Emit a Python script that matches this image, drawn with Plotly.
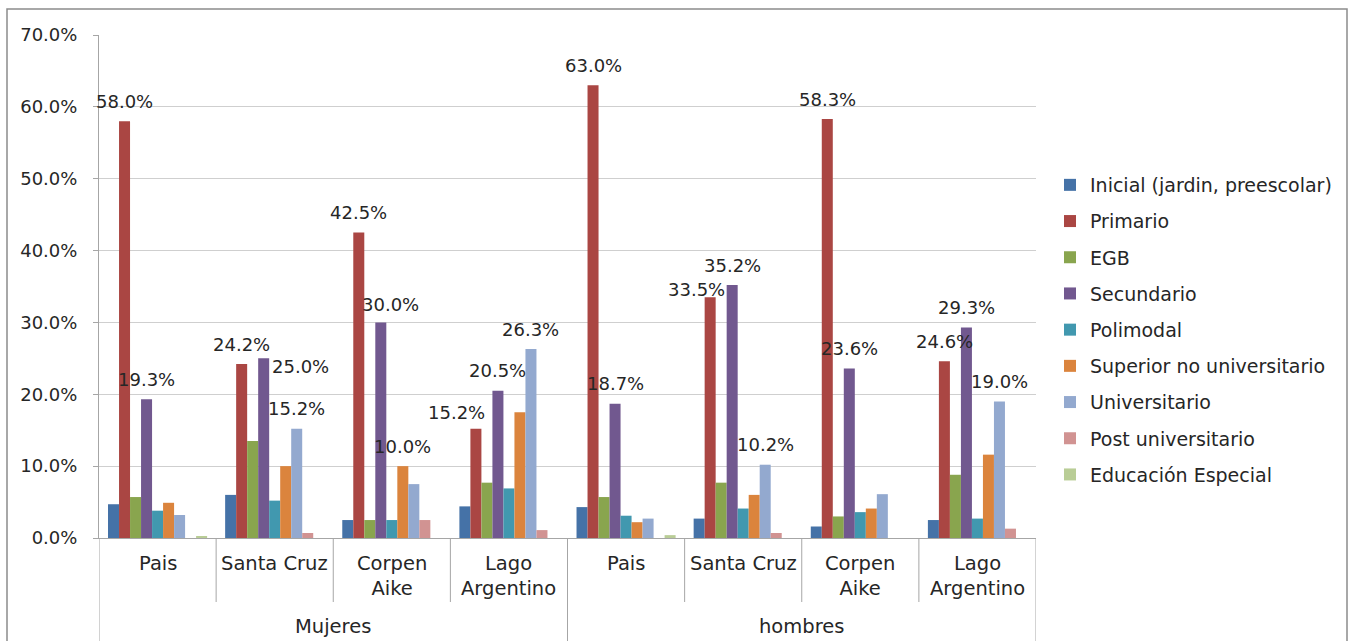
import plotly.graph_objects as go

# ---------------- data ----------------
genders = ["Mujeres", "hombres"]
categories = ["Pais", "Santa Cruz", "Corpen<br>Aike", "Lago<br>Argentino"]

series_names = [
    "Inicial (jardin, preescolar)",
    "Primario",
    "EGB",
    "Secundario",
    "Polimodal",
    "Superior no universitario",
    "Universitario",
    "Post universitario",
    "Educación Especial",
]

inicial = [4.7, 6.0, 2.5, 4.4, 4.3, 2.7, 1.6, 2.5]
primario = [58.0, 24.2, 42.5, 15.2, 63.0, 33.5, 58.3, 24.6]
egb = [5.7, 13.5, 2.5, 7.7, 5.7, 7.7, 3.0, 8.8]
secundario = [19.3, 25.0, 30.0, 20.5, 18.7, 35.2, 23.6, 29.3]
polimodal = [3.8, 5.2, 2.5, 6.9, 3.1, 4.1, 3.6, 2.7]
superior_no_univ = [4.9, 10.0, 10.0, 17.5, 2.2, 6.0, 4.1, 11.6]
universitario = [3.2, 15.2, 7.5, 26.3, 2.7, 10.2, 6.1, 19.0]
post_univ = [0.0, 0.7, 2.5, 1.1, 0.0, 0.7, 0.0, 1.3]
educ_especial = [0.2, 0.0, 0.0, 0.0, 0.4, 0.0, 0.0, 0.0]

values = [inicial, primario, egb, secundario, polimodal,
          superior_no_univ, universitario, post_univ, educ_especial]

y_ticks = [0, 10, 20, 30, 40, 50, 60, 70]
y_tick_labels = ["0.0%", "10.0%", "20.0%", "30.0%", "40.0%", "50.0%", "60.0%", "70.0%"]

colors = ["#4572A7", "#AA4643", "#89A54E", "#71588F", "#4198AF",
          "#DB843D", "#93A9CF", "#D19392", "#B9CD96"]

# data labels shown: (group index, series index)
labeled = [
    (0, 1), (0, 3),
    (1, 1), (1, 3), (1, 6),
    (2, 1), (2, 3), (2, 5),
    (3, 1), (3, 3), (3, 6),
    (4, 1), (4, 3),
    (5, 1), (5, 3), (5, 6),
    (6, 1), (6, 3),
    (7, 1), (7, 3), (7, 6),
]
# label nudges (pixels) to avoid overlaps: (dx, dy above bar top)
label_nudge = {
    (1, 3): (37, -8),
    (2, 3): (10, 18),
    (3, 1): (-19, 16),
    (5, 1): (-14, 8),
}

# ---------------- layout geometry ----------------
W, H = 1354, 641
PL, PR, PT, PB = 99, 1036, 35, 538
BARGAP = 0.154
FONT = "DejaVu Sans"
AXIS_GRAY = "#a6a6a6"
TEXT = "#262626"
NUM_SIZE = 18


def px_x(px):
    return (px - PL) / (PR - PL)


def px_y(py):
    return (PB - py) / (PB - PT)


n_groups = len(genders) * len(categories)
group_x = list(range(n_groups))
n_series = len(series_names)

fig = go.Figure()
for name, vals, col in zip(series_names, values, colors):
    fig.add_trace(go.Bar(
        x=group_x, y=vals, name=name, marker=dict(color=col, line=dict(width=0)),
        legendgroup=name, hoverinfo="skip",
    ))

annotations = []
bar_w = (1 - BARGAP) / n_series
for (g, s) in labeled:
    v = values[s][g]
    xc = g - (1 - BARGAP) / 2 + (s + 0.5) * bar_w
    dx, dy = label_nudge.get((g, s), (0, 20))
    annotations.append(dict(
        x=xc, y=v, xref="x", yref="y", text=f"{v:.1f}%", showarrow=False,
        xanchor="center", yanchor="middle", xshift=dx, yshift=dy,
        font=dict(family=FONT, size=NUM_SIZE, color=TEXT),
    ))

# category labels (inner level) and gender labels (outer level)
for gi in range(len(genders)):
    for ci, cat in enumerate(categories):
        annotations.append(dict(
            x=gi * len(categories) + ci, y=0, xref="x", yref="paper",
            text=cat, showarrow=False, xanchor="center", yanchor="top",
            yshift=-12, font=dict(family=FONT, size=19.5, color=TEXT),
        ))
    annotations.append(dict(
        x=gi * len(categories) + (len(categories) - 1) / 2, y=0,
        xref="x", yref="paper", text=genders[gi], showarrow=False,
        xanchor="center", yanchor="middle", yshift=-88,
        font=dict(family=FONT, size=19.5, color=TEXT),
    ))

shapes = []
# dividers
for gi in range(len(genders)):
    for ci in range(1, len(categories)):
        xb = gi * len(categories) + ci - 0.5
        shapes.append(dict(type="line", xref="x", yref="paper", x0=xb, x1=xb,
                           y0=0, y1=px_y(602), line=dict(color=AXIS_GRAY, width=1)))
for gi in range(len(genders) + 1):
    xb = gi * len(categories) - 0.5
    shapes.append(dict(type="line", xref="x", yref="paper", x0=xb, x1=xb,
                       y0=0, y1=px_y(660), line=dict(color=AXIS_GRAY, width=1)))
# outer chart frame
shapes.append(dict(type="rect", xref="paper", yref="paper",
                   x0=px_x(7), x1=px_x(1347), y0=px_y(660), y1=px_y(9),
                   line=dict(color="#8c8c8c", width=1.5), fillcolor="rgba(0,0,0,0)",
                   layer="below"))

fig.update_layout(
    width=W, height=H,
    margin=dict(l=PL, r=W - PR, t=PT, b=H - PB, autoexpand=False),
    paper_bgcolor="white", plot_bgcolor="white",
    barmode="group", bargap=BARGAP, bargroupgap=0,
    font=dict(family=FONT, color=TEXT),
    xaxis=dict(range=[-0.5, n_groups - 0.5], showticklabels=False, showgrid=False,
               zeroline=False, showline=True, linecolor=AXIS_GRAY, linewidth=1,
               ticks=""),
    yaxis=dict(range=[0, 70], tickmode="array", tickvals=y_ticks, ticktext=y_tick_labels,
               showgrid=True, gridcolor="#cfcfcf", gridwidth=1,
               zeroline=False, showline=True, linecolor=AXIS_GRAY, linewidth=1,
               ticks="outside", ticklen=5, tickcolor=AXIS_GRAY,
               ticklabelstandoff=12,
               tickfont=dict(family=FONT, size=NUM_SIZE, color=TEXT)),
    legend=dict(x=px_x(1050), y=px_y(330), xanchor="left", yanchor="middle",
                font=dict(family=FONT, size=19, color=TEXT),
                tracegroupgap=8.5, itemwidth=30, bgcolor="rgba(0,0,0,0)"),
    annotations=annotations,
    shapes=shapes,
    showlegend=True,
)

fig.write_html("out.html",
               config={"displayModeBar": False},
               post_script="document.body.style.margin='0px';document.body.style.padding='0px';")
